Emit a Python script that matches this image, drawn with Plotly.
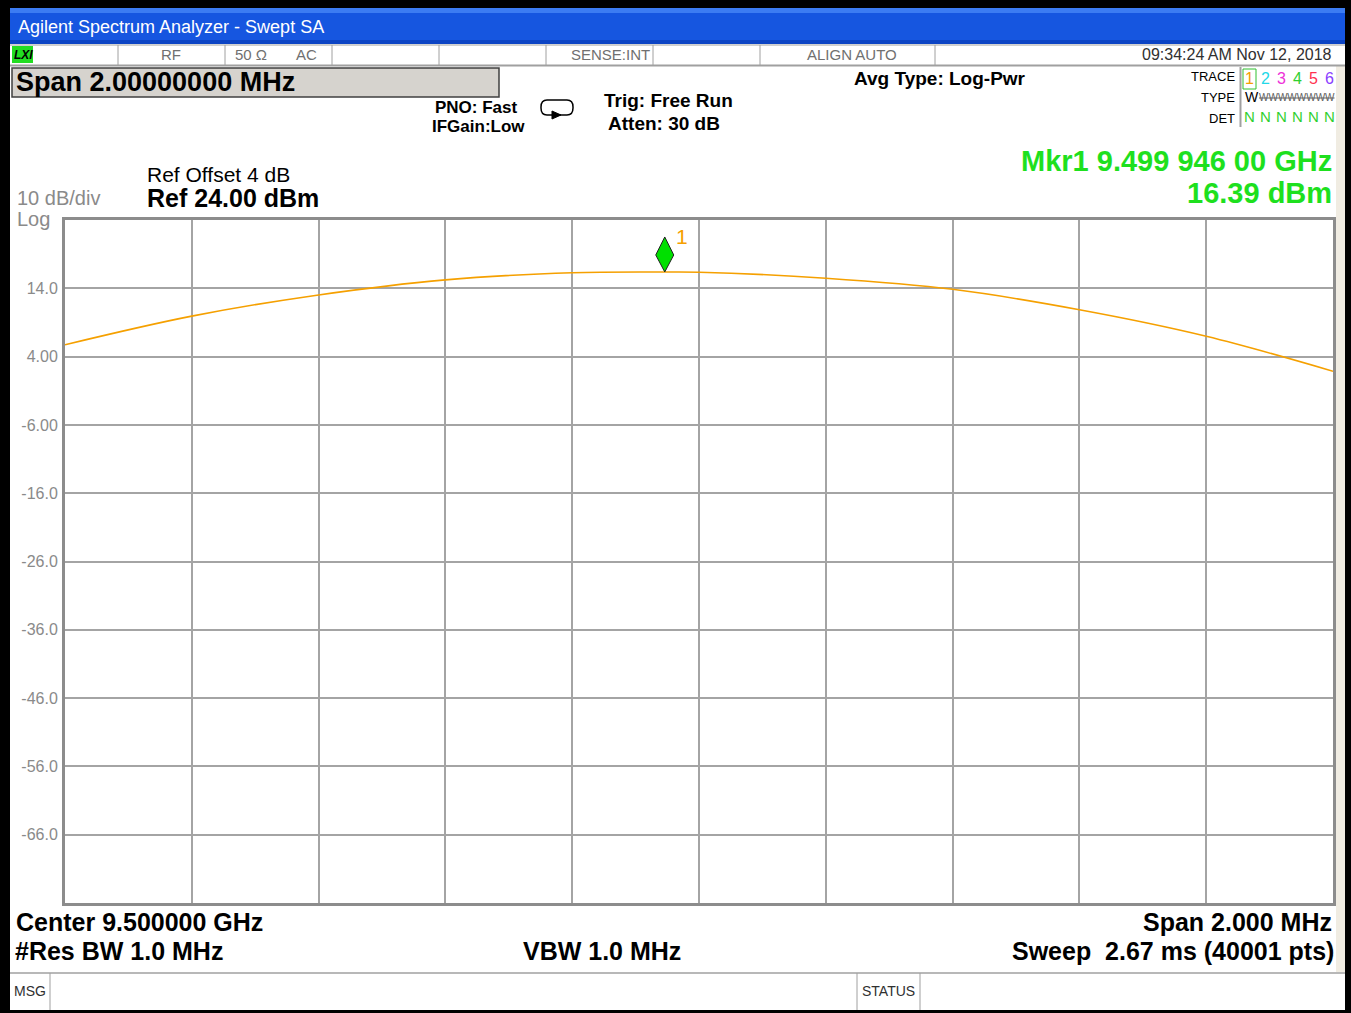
import plotly.graph_objects as go

# ---------------- data ----------------
freq_mhz = [9499.0, 9499.2, 9499.4, 9499.6, 9499.8, 9499.946, 9500.0,
            9500.2, 9500.4, 9500.6, 9500.8, 9501.0]
level_dbm = [5.74, 9.93, 13.03, 15.24, 16.28, 16.39, 16.36,
             15.47, 13.85, 10.86, 6.98, 1.86]
x_grid = [9499.2, 9499.4, 9499.6, 9499.8, 9500.0, 9500.2, 9500.4, 9500.6, 9500.8]
y_ticks = [14, 4, -6, -16, -26, -36, -46, -56, -66]
y_ticktext = ["14.0", "4.00", "-6.00", "-16.0", "-26.0", "-36.0", "-46.0", "-56.0", "-66.0"]
mkr_freq = 9499.946
mkr_level = 16.39
trace_nums = ["1", "2", "3", "4", "5", "6"]
trace_cols = ["#f5a000", "#22d8e8", "#ee30d8", "#30d030", "#ff3050", "#8a40ff"]

W, H = 1351, 1013
L, R, T, B = 65, 1333, 220, 903
FONT = "Liberation Sans, Arial, sans-serif"


def px(x):
    return (x - L) / (R - L)


def py(y):
    return (B - y) / (B - T)


fig = go.Figure()
fig.add_trace(go.Scatter(x=freq_mhz, y=level_dbm, mode="lines",
                         line=dict(color="#f5a000", width=1.6, shape="spline"),
                         hoverinfo="skip", showlegend=False))

shapes = []
ann = []


def rect(x0, y0, x1, y1, fill, line=None, lw=0, layer="below"):
    shapes.append(dict(type="rect", xref="paper", yref="paper",
                       x0=px(x0), x1=px(x1), y0=py(y0), y1=py(y1),
                       fillcolor=fill, line=dict(color=line or fill, width=lw),
                       layer=layer))


def hline(x0, x1, y, color, w=1, layer="below"):
    shapes.append(dict(type="line", xref="paper", yref="paper",
                       x0=px(x0), x1=px(x1), y0=py(y), y1=py(y),
                       line=dict(color=color, width=w), layer=layer))


def vline(x, y0, y1, color, w=1, layer="below"):
    shapes.append(dict(type="line", xref="paper", yref="paper",
                       x0=px(x), x1=px(x), y0=py(y0), y1=py(y1),
                       line=dict(color=color, width=w), layer=layer))


def text(x, y, s, size, color="black", bold=False, anchor="left", family=FONT, pad=1):
    ann.append(dict(xref="paper", yref="paper", x=px(x), y=py(y), text=s,
                    showarrow=False, xanchor=anchor, yanchor="middle", borderpad=pad,
                    font=dict(family=family, size=size, color=color,
                              weight="bold" if bold else "normal")))


# frame: white screen on black
rect(10, 8, 1345, 1010, "white")
rect(1336, 66, 1345, 972, "#f0ece2")
# title bar
rect(10, 8, 1345, 44, "#1656e0")
rect(10, 8, 1345, 13, "#3c7cf2")
rect(10, 40, 1345, 44, "#0c44c4")
text(16, 27, "Agilent Spectrum Analyzer - Swept SA", 18, "white")

# status row
hline(10, 1345, 45, "#a0a0a0", 1)
hline(10, 1345, 65.5, "#a0a0a0", 2)
for xd in [118, 225, 332, 439, 546, 653, 760, 935]:
    vline(xd, 45, 65, "#a0a0a0", 1)
rect(12, 46, 33, 63, "#22dd22")
text(12, 55, "<i><b>LXI</b></i>", 12, "black")
text(171, 55, "RF", 15, "#707070", anchor="center")
text(233, 55, "50 Ω", 15, "#707070")
text(306, 55, "AC", 15, "#707070", anchor="center")
text(610, 55, "SENSE:INT", 15, "#707070", anchor="center")
text(852, 55, "ALIGN AUTO", 15, "#707070", anchor="center")
text(1334, 55, "09:34:24 AM Nov 12, 2018", 16, "#303030", anchor="right")

# span box
rect(12, 68, 499, 97, "#d6d3ce", "#404040", 1.5)
text(14, 82, "Span 2.00000000 MHz", 27, "black", bold=True)

# settings
text(852, 78, "Avg Type: Log-Pwr", 19, "black", bold=True)
text(520, 107, "PNO: Fast", 17, "black", bold=True, anchor="right")
text(527, 127, "IFGain:Low", 17, "black", bold=True, anchor="right")
text(602, 100, "Trig: Free Run", 19, "black", bold=True)
text(606, 123, "Atten: 30 dB", 19, "black", bold=True)
# loop icon
shapes.append(dict(type="path", xref="paper", yref="paper",
                   path=("M %f %f L %f %f Q %f %f %f %f L %f %f Q %f %f %f %f "
                         "L %f %f Q %f %f %f %f L %f %f Q %f %f %f %f Z") % (
                       px(547), py(100), px(567), py(100), px(573), py(100), px(573), py(107),
                       px(573), py(108), px(573), py(115), px(567), py(115),
                       px(547), py(115), px(541), py(115), px(541), py(108),
                       px(541), py(107), px(541), py(100), px(547), py(100)),
                   line=dict(color="black", width=1.5), fillcolor="white"))
shapes.append(dict(type="path", xref="paper", yref="paper",
                   path="M %f %f L %f %f L %f %f Z" % (px(552), py(111), px(561), py(115),
                                                      px(552), py(119)),
                   fillcolor="black", line=dict(color="black", width=1)))

# trace/type/det panel
text(1237, 77, "TRACE", 13, "black", anchor="right")
text(1237, 97, "TYPE", 13, "black", anchor="right")
text(1237, 118, "DET", 13, "black", anchor="right")
vline(1240.5, 67, 127, "#a0a0a0", 2)
rect(1243, 69, 1256, 89, "white", "#30c030", 1)
for i, (n, c) in enumerate(zip(trace_nums, trace_cols)):
    xc = 1249.5 + i * 15.9
    text(xc, 79, n, 16, c, anchor="center")
    text(xc, 117, "N", 15, "#30d030", anchor="center")
text(1243, 97, "W", 14, "black")
text(1257, 97, "<s>WWWWWWWW</s>", 10, "#606060")

# marker readout
text(1333, 161, "Mkr1 9.499 946 00 GHz", 29, "#1ee01e", bold=True, anchor="right", pad=0)
text(1333, 193, "16.39 dBm", 29, "#1ee01e", bold=True, anchor="right", pad=0)

# reference labels
text(145, 175, "Ref Offset 4 dB", 21, "black")
text(145, 198, "Ref 24.00 dBm", 25, "black", bold=True)
text(16, 198, "10 dB/div", 20, "#8a8a8a", pad=0)
text(16, 219, "Log", 20, "#8a8a8a", pad=0)

# bottom labels
text(14, 922, "Center 9.500000 GHz", 25, "black", bold=True)
text(13, 951, "#Res BW 1.0 MHz", 25, "black", bold=True)
text(602, 951, "VBW 1.0 MHz", 25, "black", bold=True, anchor="center")
text(1334, 922, "Span 2.000 MHz", 25, "black", bold=True, anchor="right")
text(1336, 951, "Sweep  2.67 ms (40001 pts)", 25, "black", bold=True, anchor="right")

# message bar
hline(10, 1345, 973, "#a0a0a0", 1.5)
vline(50, 973, 1010, "#a0a0a0", 1)
vline(857, 973, 1010, "#a0a0a0", 1)
vline(920, 973, 1010, "#a0a0a0", 1)
text(30, 991, "MSG", 14, "#303030", anchor="center")
text(888, 991, "STATUS", 14, "#303030", anchor="center")

# marker diamond (pixel sized, anchored to marker data point)
shapes.append(dict(type="path", xref="x", yref="y", xsizemode="pixel", ysizemode="pixel",
                   xanchor=mkr_freq, yanchor=mkr_level,
                   path="M 0 0 L 9 17 L 0 35 L -9 17 Z",
                   fillcolor="#00e000", line=dict(color="#202020", width=1), layer="above"))
ann.append(dict(xref="x", yref="y", x=mkr_freq, y=mkr_level, text="1", showarrow=False,
                xanchor="left", yanchor="bottom", xshift=9, yshift=22,
                font=dict(family=FONT, size=21, color="#f5a000")))

fig.update_layout(
    width=W, height=H,
    margin=dict(l=L, r=W - R, t=T, b=H - B, pad=0),
    paper_bgcolor="black", plot_bgcolor="white",
    shapes=shapes, annotations=ann, showlegend=False,
    xaxis=dict(range=[9499.0, 9501.0], tickvals=x_grid, showticklabels=False, ticks="",
               showgrid=True, gridcolor="#a4a4a4", gridwidth=1.5, zeroline=False,
               showline=True, linecolor="#8c8c8c", linewidth=3, mirror=True, fixedrange=True),
    yaxis=dict(range=[-76, 24], tickvals=y_ticks, ticktext=y_ticktext, ticks="",
               tickfont=dict(family=FONT, size=16, color="#8a8a8a"), ticklabelstandoff=1,
               showgrid=True, gridcolor="#a4a4a4", gridwidth=1.5, zeroline=False,
               showline=True, linecolor="#8c8c8c", linewidth=3, mirror=True, fixedrange=True),
)

fig.write_html("out.html", config={"displayModeBar": False},
               post_script="document.body.style.margin='0px';document.body.style.overflow='hidden';")
